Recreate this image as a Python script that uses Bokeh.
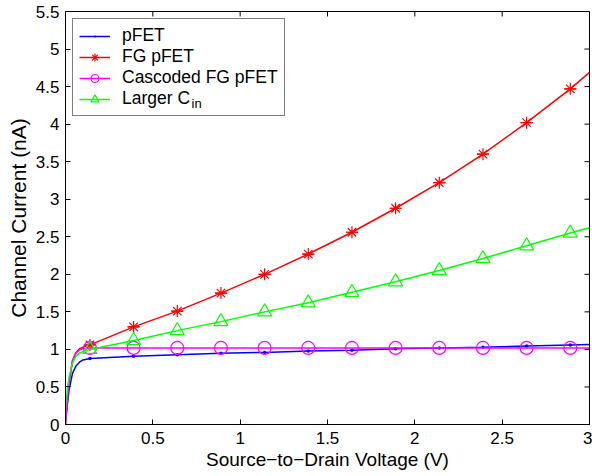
from bokeh.plotting import figure
from bokeh.models import (ColumnDataSource, Range1d, FixedTicker,
                          Legend, LegendItem)
from bokeh.embed import file_html
from bokeh.resources import INLINE

# ---- data ----
vsd = [0.0, 0.01, 0.02, 0.04, 0.06, 0.08, 0.10, 0.14, 0.39, 0.64, 0.89, 1.14,
       1.39, 1.64, 1.89, 2.14, 2.39, 2.64, 2.89, 3.0]
i_pfet = [0.05, 0.25, 0.45, 0.68, 0.78, 0.83, 0.86, 0.88, 0.91, 0.93, 0.95, 0.96,
          0.98, 0.99, 1.01, 1.02, 1.03, 1.045, 1.06, 1.065]
i_fg = [0.0, 0.32, 0.55, 0.85, 0.96, 1.01, 1.03, 1.06, 1.30, 1.51, 1.75, 2.00,
        2.27, 2.56, 2.88, 3.22, 3.60, 4.02, 4.47, 4.69]
i_casc = [0.0, 0.32, 0.55, 0.85, 0.95, 0.99, 1.01, 1.02, 1.02, 1.02, 1.02, 1.02,
          1.02, 1.02, 1.02, 1.02, 1.02, 1.02, 1.02, 1.02]
i_large = [0.2, 0.45, 0.62, 0.82, 0.91, 0.95, 0.97, 1.00, 1.12, 1.25, 1.37, 1.50,
           1.62, 1.76, 1.90, 2.05, 2.21, 2.38, 2.55, 2.62]
marker_idx = list(range(7, 19))

x_ticks = [0, 0.5, 1, 1.5, 2, 2.5, 3]
x_tick_labels = ["0", "0.5", "1", "1.5", "2", "2.5", "3"]
y_ticks = [0, 0.5, 1, 1.5, 2, 2.5, 3, 3.5, 4, 4.5, 5, 5.5]
y_tick_labels = ["0", "0.5", "1", "1.5", "2", "2.5", "3", "3.5", "4", "4.5", "5", "5.5"]

series_names = ["pFET", "FG pFET", "Cascoded FG pFET", "Larger C"]
subscript = "in"

X_MIN, X_MAX = 0, 3
Y_MIN, Y_MAX = 0, 5.5

FONT = "Liberation Sans"

# layout (pixels)
W, H = 592, 476
B_LEFT, B_RIGHT, B_TOP, B_BOTTOM = 65, 3, 11, 52
TICK_PX = 5
frame_w = W - B_LEFT - B_RIGHT
frame_h = H - B_TOP - B_BOTTOM
tick_dx = TICK_PX * (X_MAX - X_MIN) / frame_w
tick_dy = TICK_PX * (Y_MAX - Y_MIN) / frame_h

src = ColumnDataSource(dict(x=vsd, pfet=i_pfet, fg=i_fg, casc=i_casc, large=i_large))
msrc = ColumnDataSource(dict(
    x=[vsd[i] for i in marker_idx],
    pfet=[i_pfet[i] for i in marker_idx],
    fg=[i_fg[i] for i in marker_idx],
    casc=[i_casc[i] for i in marker_idx],
    large=[i_large[i] for i in marker_idx],
))

p = figure(width=W, height=H, output_backend="svg", toolbar_location=None,
           x_range=Range1d(X_MIN, X_MAX), y_range=Range1d(Y_MIN, Y_MAX),
           min_border_left=B_LEFT, min_border_right=B_RIGHT,
           min_border_top=B_TOP, min_border_bottom=B_BOTTOM)
p.grid.visible = False
p.outline_line_color = "black"
p.outline_line_width = 1
p.background_fill_color = "white"
p.border_fill_color = "white"

# lines + markers
lw = 1.5
r_b = p.line("x", "pfet", source=src, line_color="#0000ff", line_width=lw)
m_b = p.scatter("x", "pfet", source=msrc, marker="dot", size=14,
                fill_color="#0000ff", line_color="#0000ff")
r_r = p.line("x", "fg", source=src, line_color="#ff0000", line_width=lw)
m_r1 = p.scatter("x", "fg", source=msrc, marker="asterisk", size=12,
                 line_color="#ff0000", line_width=1.2)
m_r2 = p.scatter("x", "fg", source=msrc, marker="dash", size=12,
                 line_color="#ff0000", line_width=1.2)
r_m = p.line("x", "casc", source=src, line_color="#ff00ff", line_width=lw)
m_m = p.scatter("x", "casc", source=msrc, marker="circle", size=13,
                fill_color=None, line_color="#ff00ff", line_width=1.2)
r_g = p.line("x", "large", source=src, line_color="#00ff00", line_width=lw)
m_g = p.scatter("x", "large", source=msrc, marker="triangle", size=14,
                fill_color=None, line_color="#00ff00", line_width=1.2)

# axes (MATLAB-like box with inward ticks)
def style_axis(ax, ticks, labels):
    ax.ticker = FixedTicker(ticks=ticks)
    ax.major_label_overrides = {t: l for t, l in zip(ticks, labels)}
    ax.major_tick_in = TICK_PX
    ax.major_tick_out = 0
    ax.minor_tick_in = 0
    ax.minor_tick_out = 0
    ax.axis_line_color = "black"
    ax.major_tick_line_color = "black"
    ax.major_label_text_font = FONT
    ax.major_label_text_font_size = "17px"
    ax.major_label_text_color = "black"
    ax.axis_label_text_font = FONT
    ax.axis_label_text_font_style = "normal"
    ax.axis_label_text_color = "black"

style_axis(p.xaxis[0], x_ticks, x_tick_labels)
style_axis(p.yaxis[0], y_ticks, y_tick_labels)
p.xaxis[0].axis_label = "Source\u2212to\u2212Drain Voltage (V)"
p.yaxis[0].axis_label = "Channel Current (nA)"
p.xaxis[0].axis_label_text_font_size = "19px"
p.yaxis[0].axis_label_text_font_size = "21px"
p.xaxis[0].major_label_standoff = 7
p.xaxis[0].axis_label_standoff = 2
p.yaxis[0].major_label_standoff = 6
p.yaxis[0].axis_label_standoff = 3

# inward ticks on the top and right edges of the box
p.segment(x0=x_ticks, y0=[Y_MAX] * len(x_ticks),
          x1=x_ticks, y1=[Y_MAX - tick_dy] * len(x_ticks),
          line_color="black", line_width=1)
p.segment(x0=[X_MAX] * len(y_ticks), y0=y_ticks,
          x1=[X_MAX - tick_dx] * len(y_ticks), y1=y_ticks,
          line_color="black", line_width=1)

legend = Legend(items=[
    LegendItem(label=series_names[0], renderers=[r_b, m_b]),
    LegendItem(label=series_names[1], renderers=[r_r, m_r1, m_r2]),
    LegendItem(label=series_names[2], renderers=[r_m, m_m]),
    LegendItem(label=series_names[3], renderers=[r_g, m_g]),
], location="top_left")
legend.margin = 7
legend.padding = 6
legend.spacing = 0
legend.glyph_width = 31
legend.glyph_height = 20
legend.label_height = 20
legend.label_standoff = 12
legend.label_text_font = FONT
legend.label_text_font_size = "17.5px"
legend.label_text_color = "black"
legend.border_line_color = "black"
legend.border_line_width = 1.5
legend.background_fill_alpha = 0
p.add_layout(legend)

# subscript of "Larger C_in"
p.text(x=[0.722], y=[4.28], text=[subscript], text_font={"value": FONT},
       text_font_size="13px", text_baseline="middle", text_align="left",
       text_color="black")

open("out.html", "w").write(file_html(p, INLINE))
